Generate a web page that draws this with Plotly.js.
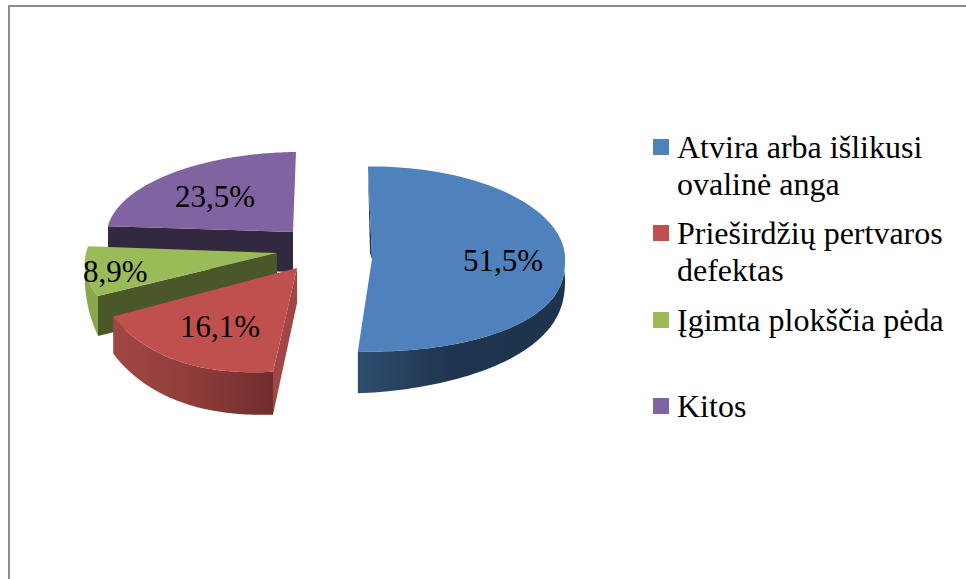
<!DOCTYPE html>
<html>
<head>
<meta charset="utf-8">
<script src="https://cdn.plot.ly/plotly-3.0.1.min.js"></script>
<style>html,body{margin:0;padding:0;background:#fff}#c{width:966px;height:579px}</style>
</head>
<body>
<div id="c"></div>
<script>
// ---- data ----
const categories = ['Atvira arba išlikusi ovalinė anga', 'Prieširdžių pertvaros defektas', 'Įgimta plokščia pėda', 'Kitos'];
const values = [51.5, 16.1, 8.9, 23.5];
const legendLines = [['Atvira arba išlikusi', 'ovalinė anga'], ['Prieširdžių pertvaros', 'defektas'], ['Įgimta plokščia pėda'], ['Kitos']];

// ---- style and projection of each exploded slice (screen space of the pixel-scaled axes) ----
const topColors = ['#4f81bd', '#c0504d', '#9bbb59', '#8064a2'];
const geom = [
  {ax: 372, ay: 259, rx: 193, ry: 92.5, k: 0,      p: 0.82, b: 0, lx: 503, ly: 260},
  {ax: 297, ay: 268, rx: 203, ry: 104,  k: -0.088, p: 1,    b: 6, lx: 220, ly: 326},
  {ax: 277, ay: 253, rx: 191, ry: 92,   k: -0.236, p: 1,    b: 0, lx: 115, ly: 271},
  {ax: 293, ay: 232, rx: 186, ry: 80,   k: -0.086, p: 1,    b: 0, lx: 215, ly: 196}
];
const startAngle = -1.2;
// outer walls: [from fraction of slice, to fraction, depth at start, depth at end, gradient]
const outerWalls = [
  {f0: 0.47, f1: 1, d0: 20, d1: 42, grad: [[0, '#2f4d70'], [0.45, '#1f344e'], [1, '#1e334c']]},
  {f0: 0, f1: 1, d0: 43, d1: 37, grad: [[0, '#a14744'], [0.55, '#8c3b39'], [1, '#702d2c']]},
  {f0: 0, f1: 0.8, d0: 40, d1: 8, grad: [[0, '#8aa74f'], [1, '#8aa74f']]},
  null
];
// inner wall along one radial edge: depth at apex, depth at rim, colour
const innerWalls = [
  {da: 0, dr: 0, color: '#1f344e'},
  {da: 35, dr: 43, color: '#a04644'},
  {da: 40, dr: 40, color: '#4a5729'},
  {da: 40, dr: 40, color: '#32283f'}
];

const rad = d => d * Math.PI / 180;
const total = values.reduce((a, b) => a + b, 0);
let acc = startAngle;
const spans = values.map(v => { const a = acc; acc += v / total * 360; return [a, acc]; });
function pt(i, deg, depth) {
  const g = geom[i], c = Math.cos(rad(deg)), [a0, a1] = spans[i];
  const off = c < 0 ? g.ry * Math.pow(-c, g.p) : -g.ry * c;
  const bulge = g.b * Math.sin(Math.PI * (deg - a0) / (a1 - a0));
  return [g.ax + g.rx * Math.sin(rad(deg)) + g.k * off, g.ay + off + bulge + (depth || 0)];
}
function poly(pts, opts) {
  return Object.assign({
    type: 'scatter', mode: 'none', fill: 'toself',
    x: pts.map(p => p[0]), y: pts.map(p => p[1]),
    showlegend: false, hoverinfo: 'skip'
  }, opts);
}
function radialWall(i, deg, w) {
  const g = geom[i];
  return poly([[g.ax, g.ay], pt(i, deg), pt(i, deg, w.dr), [g.ax, g.ay + w.da]], {fillcolor: w.color});
}

const built = values.map((v, i) => {
  const g = geom[i], [a0, a1] = spans[i], tr = [];
  if (i > 0) tr.push(radialWall(i, a0, innerWalls[i]));
  const w = outerWalls[i];
  if (w) {
    const t0 = a0 + (a1 - a0) * w.f0, t1 = a0 + (a1 - a0) * w.f1, top = [], bot = [];
    for (let s = 0; s <= 60; s++) {
      const f = s / 60, t = t0 + (t1 - t0) * f;
      top.push(pt(i, t));
      bot.push(pt(i, t, w.d0 + (w.d1 - w.d0) * f));
    }
    tr.push(poly(top.concat(bot.reverse()), {
      fillgradient: {type: 'horizontal', colorscale: w.grad}
    }));
  }
  const arc = [[g.ax, g.ay]];
  for (let s = 0; s <= 90; s++) arc.push(pt(i, a0 + (a1 - a0) * s / 90));
  tr.push(poly(arc, {fillcolor: topColors[i], name: categories[i]}));
  if (i === 0) {
    tr.unshift(poly([pt(i, a0), [g.ax, g.ay], [g.ax - 2, g.ay - 6]], {fillcolor: innerWalls[0].color}));
  }
  return tr;
});
const traces = [...built[3], ...built[2], ...built[1], ...built[0]];

const serif = 'Liberation Serif, Times New Roman, serif';
const annotations = values.map((v, i) => ({
  x: geom[i].lx, y: geom[i].ly, xref: 'x', yref: 'y', showarrow: false,
  xanchor: 'center', yanchor: 'middle',
  text: v.toFixed(1).replace('.', ',') + '%',
  font: {family: serif, size: 31, color: '#000'}
}));
const legendTop = [147, 233, 320, 406];
const shapes = [
  {type: 'line', xref: 'x', yref: 'y', x0: 9, x1: 9, y0: 5, y1: 579, line: {color: '#8c8c8c', width: 2}},
  {type: 'line', xref: 'x', yref: 'y', x0: 8, x1: 966, y0: 6, y1: 6, line: {color: '#8c8c8c', width: 2}}
];
legendLines.forEach((lines, i) => {
  shapes.push({type: 'rect', xref: 'x', yref: 'y', x0: 653, x1: 669,
    y0: legendTop[i] - 8, y1: legendTop[i] + 8, line: {width: 0}, fillcolor: topColors[i]});
  lines.forEach((t, j) => annotations.push({
    x: 677, y: legendTop[i] + j * 37, xref: 'x', yref: 'y', showarrow: false,
    xanchor: 'left', yanchor: 'middle', text: t, xshift: -2,
    font: {family: serif, size: 32, color: '#000'}
  }));
});

Plotly.newPlot('c', traces, {
  width: 966, height: 579,
  margin: {l: 0, r: 0, t: 0, b: 0},
  paper_bgcolor: '#fff', plot_bgcolor: '#fff',
  showlegend: false,
  xaxis: {range: [0, 966], visible: false, fixedrange: true},
  yaxis: {range: [579, 0], visible: false, fixedrange: true},
  shapes, annotations
}, {displayModeBar: false, staticPlot: true});
</script>
</body>
</html>
